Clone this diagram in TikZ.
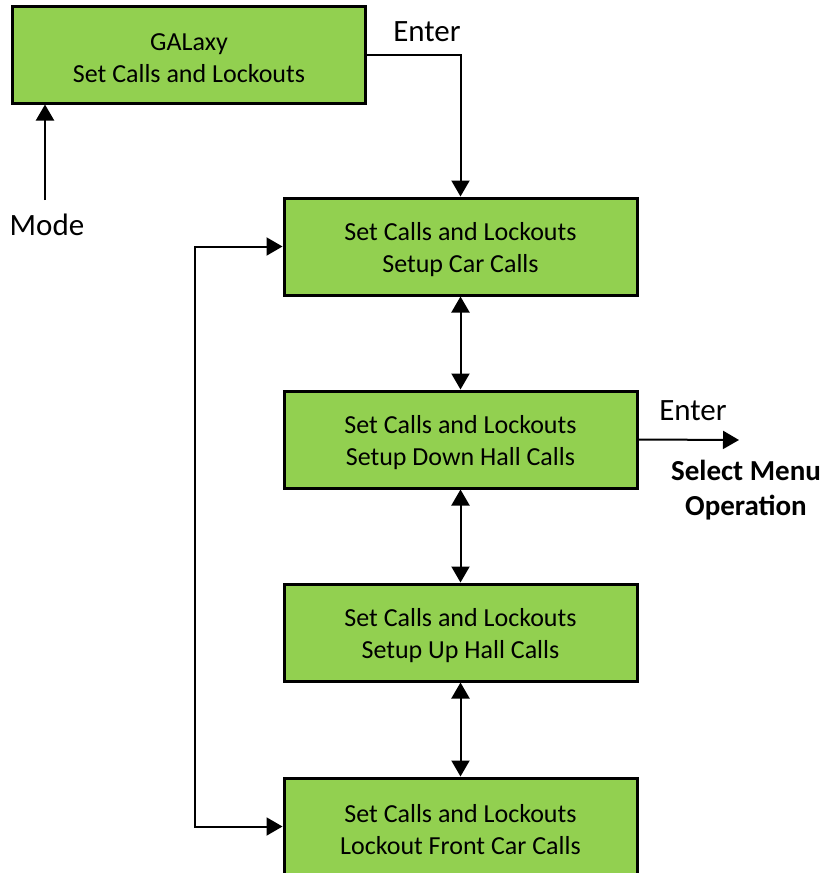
\documentclass[tikz,border=0pt]{standalone}
\usepackage{fontspec}
\setmainfont{Carlito}
\usetikzlibrary{arrows.meta}
\begin{document}
\begin{tikzpicture}[x=1pt,y=-1pt,
  menutext/.style={align=center, inner sep=0pt, font=\fontsize{26}{32}\selectfont},
  menubox/.style={draw=black, line width=3pt, fill=menugreen, minimum width=353pt,
    minimum height=97pt, inner sep=0pt,
    label={[menutext, yshift=-3.5pt]center:#1}},
  keylabel/.style={font=\fontsize{31}{36}\selectfont, inner sep=0pt},
  tip/.tip={Triangle[length=16pt,width=18pt]},
  link/.style={line width=2pt, -tip},
  bilink/.style={line width=2pt, tip-tip}]
\definecolor{menugreen}{HTML}{92D050}
\useasboundingbox (0,0) rectangle (832,873);

% menu screens
\node[menubox={GALaxy\\Set Calls and Lockouts}] (b0) at (189,54.5) {};
\node[menubox={Set Calls and Lockouts\\Setup Car Calls}] (b1) at (460.5,246.5) {};
\node[menubox={Set Calls and Lockouts\\Setup Down Hall Calls}] (b2) at (460.5,439.5) {};
\node[menubox={Set Calls and Lockouts\\Setup Up Hall Calls}] (b3) at (460.5,632.5) {};
\node[menubox={Set Calls and Lockouts\\Lockout Front Car Calls}] (b4) at (460.5,826.5) {};

% key labels
\node[keylabel] (enter1) at (427,32) {Enter};
\node[keylabel] (mode) at (47,225) {Mode};
\node[keylabel] (enter2) at (693,411) {Enter};
\node[font=\bfseries\fontsize{29}{35}\selectfont, align=center, inner sep=0pt] (sel) at (746,490) {Select Menu\\Operation};

\coordinate (modetop) at (45,200);
\coordinate (loop) at (195,0);
\coordinate (exit) at (739,440);

% connectors
\draw[link] (b0.east) -| (b1.north);
\draw[link] (modetop) -- (b0.south -| modetop);
\draw[bilink] (b1.south) -- (b2.north);
\draw[bilink] (b2.south) -- (b3.north);
\draw[bilink] (b3.south) -- (b4.north);
\draw[bilink] (b1.west) -- (b1.west -| loop) -- (b4.west -| loop) -- (b4.west);
\draw[link] (b2.east) -- (exit);
\end{tikzpicture}
\end{document}
